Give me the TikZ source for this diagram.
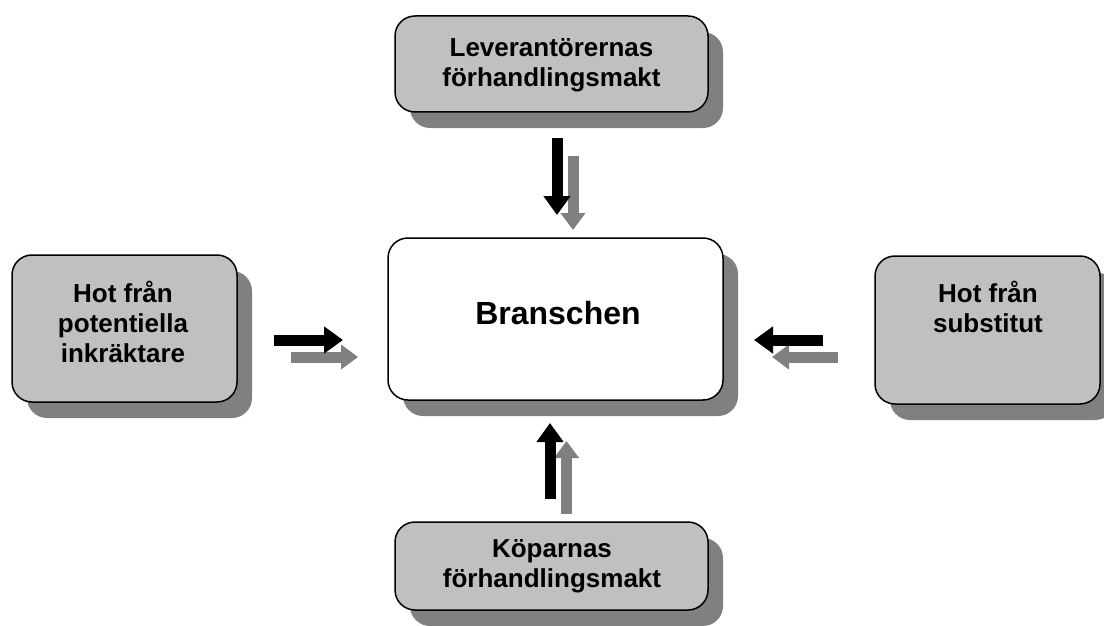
\documentclass[tikz,border=0pt]{standalone}
\usepackage{fontspec}
\setmainfont{Liberation Sans}
\usetikzlibrary{arrows.meta,shadows}
\definecolor{boxgray}{HTML}{C0C0C0}
\definecolor{shadowgray}{HTML}{808080}
\begin{document}
\begin{tikzpicture}[x=1pt,y=-1pt,
  force/.style={draw=black, line width=1.5pt, rounded corners=20pt, fill=boxgray,
    inner sep=0pt,
    drop shadow={shadow xshift=15pt, shadow yshift=-16pt, fill=shadowgray, opacity=1}},
  industry/.style={force, fill=white},
  lbl/.style={align=center, font=\bfseries\fontsize{26}{30}\selectfont, inner sep=0pt},
  blackarrow/.style={draw=black, line width=11pt, -{Triangle[width=26pt,length=19pt]}},
  grayarrow/.style={draw=shadowgray, line width=11pt, -{Triangle[width=24pt,length=17pt]}}]
\useasboundingbox (0,0) rectangle (1104,626);

% the five forces
\node[force, minimum width=313pt, minimum height=96pt] (supp) at (551.5,64) {};
\node[force, minimum width=225pt, minimum height=147pt] (entr) at (124.5,328.5) {};
\node[force, minimum width=225pt, minimum height=148pt] (subs) at (987.5,330) {};
\node[force, minimum width=313pt, minimum height=88pt] (buy) at (551.5,566) {};
\node[industry, minimum width=335pt, minimum height=162pt] (ind) at (555.5,319) {};

% labels
\node[lbl] (supptxt) at (551.5,65) {Leverantörernas\\förhandlingsmakt};
\node[lbl] (entrtxt) at (123,322) {Hot från\\potentiella\\inkräktare};
\node[lbl] (substxt) at (988,307) {Hot från\\substitut};
\node[lbl] (buytxt) at (552,566) {Köparnas\\förhandlingsmakt};
\node[lbl, font=\bfseries\fontsize{32}{36}\selectfont] (indtxt) at (558,313) {Branschen};

% arrow end points
\coordinate (s1a) at (557,138);   \coordinate (s1b) at (557,215);
\coordinate (s2a) at (573,156);   \coordinate (s2b) at (573,230);
\coordinate (e1a) at (274,340);   \coordinate (e1b) at (343,340);
\coordinate (e2a) at (291,357);   \coordinate (e2b) at (358,357);
\coordinate (r1a) at (823,340);   \coordinate (r1b) at (754,340);
\coordinate (r2a) at (838,357);   \coordinate (r2b) at (772,357);
\coordinate (b1a) at (550,499);   \coordinate (b1b) at (550,423);
\coordinate (b2a) at (566.5,514); \coordinate (b2b) at (566.5,441);

% arrows towards the industry
\draw[grayarrow] (s2a) -- (s2b);
\draw[blackarrow] (s1a) -- (s1b);
\draw[grayarrow] (e2a) -- (e2b);
\draw[blackarrow] (e1a) -- (e1b);
\draw[grayarrow] (r2a) -- (r2b);
\draw[blackarrow] (r1a) -- (r1b);
\draw[grayarrow] (b2a) -- (b2b);
\draw[blackarrow] (b1a) -- (b1b);
\end{tikzpicture}
\end{document}
